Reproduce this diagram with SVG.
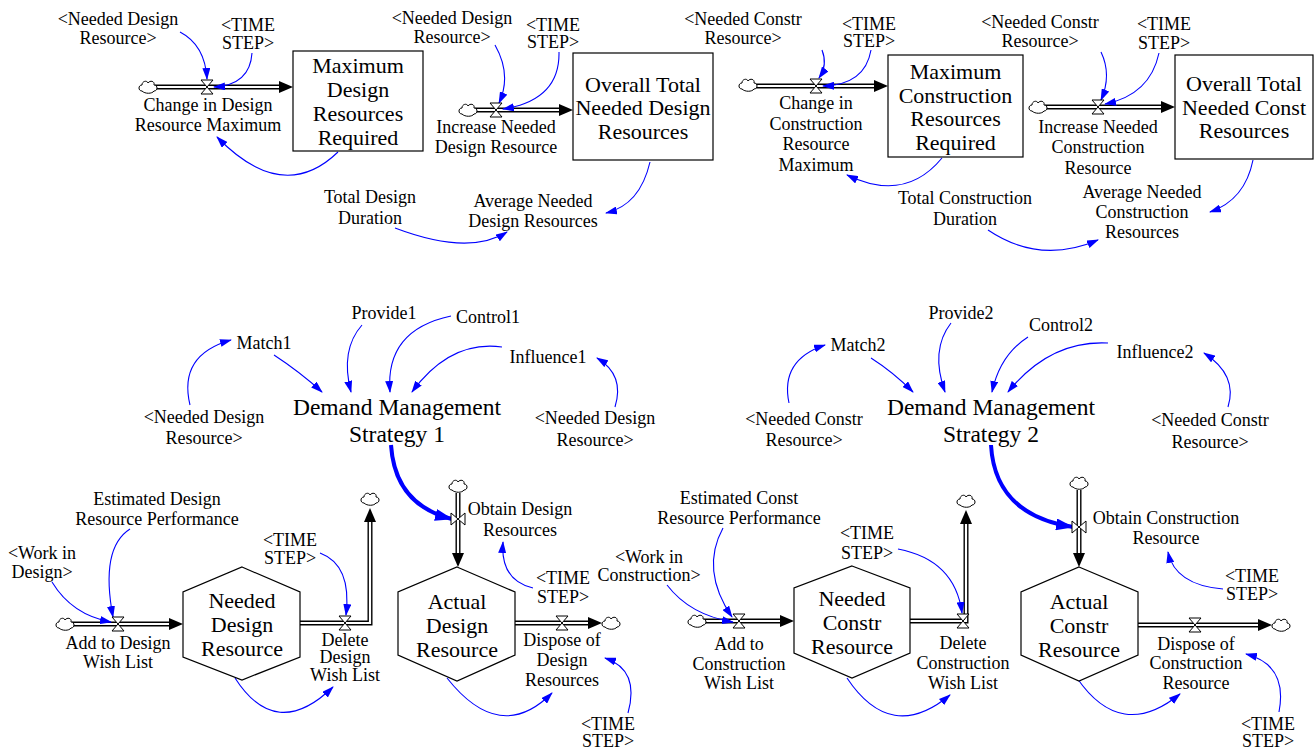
<svg xmlns="http://www.w3.org/2000/svg" width="1315" height="750" viewBox="0 0 1315 750" font-family="'Liberation Serif','DejaVu Serif',serif">
<style>
text{font-family:"Liberation Serif","DejaVu Serif","Times New Roman",serif;fill:#000;text-anchor:middle}
.s{font-size:18px}
.b{font-size:22px}
.d{font-size:23.5px}
.stock{fill:#fff;stroke:#000;stroke-width:1.2}
.po{stroke:#000;stroke-width:5;fill:none;stroke-linejoin:miter}
.pi{stroke:#fff;stroke-width:2.2;fill:none;stroke-linejoin:miter}
.ph{fill:#000}
.lk{stroke:#0000ff;stroke-width:1.1;fill:none;marker-end:url(#ah)}
.tk{stroke:#0000ff;stroke-width:4;fill:none;marker-end:url(#ahb)}
.valve{fill:#fff;stroke:#000;stroke-width:1}
.cloud{fill:#fff;stroke:#000;stroke-width:1}
</style>
<defs>
<marker id="ah" markerUnits="userSpaceOnUse" markerWidth="12" markerHeight="8" refX="11" refY="4" orient="auto"><path d="M0,0 L12,4 L0,8 Z" fill="#0000ff"/></marker>
<marker id="ahb" markerUnits="userSpaceOnUse" markerWidth="18" markerHeight="12" refX="17" refY="6" orient="auto"><path d="M0,0 L18,6 L0,12 Z" fill="#0000ff"/></marker>
<path id="cl" class="cloud" d="M-6,4 C-10,4 -10,-2 -6,-2 C-6,-6 -1,-7 0,-4 C2,-7 7,-6 6,-2 C10,-2 10,4 6,4 C4,7 -3,7 -6,4 Z"/>
<path id="vh" class="valve" d="M-6,-7 L6,-7 L-6,7 L6,7 Z"/>
<path id="vv" class="valve" d="M-7,-6 L-7,6 L7,-6 L7,6 Z"/>
</defs>

<g id="connectors">
<path class="po" d="M155,87 H280"/><path class="pi" d="M155,87 H280"/><path class="ph" d="M279,81 L293,87 L279,93 Z"/>
<path class="po" d="M475,110 H560"/><path class="pi" d="M475,110 H560"/><path class="ph" d="M559,104 L573,110 L559,116 Z"/>
<path class="po" d="M755,86 H875"/><path class="pi" d="M755,86 H875"/><path class="ph" d="M874,80 L888,86 L874,92 Z"/>
<path class="po" d="M1045,107 H1162"/><path class="pi" d="M1045,107 H1162"/><path class="ph" d="M1161,101 L1175,107 L1161,113 Z"/>
<path class="po" d="M72,624 H170"/><path class="pi" d="M72,624 H170"/><path class="ph" d="M169,618 L183,624 L169,630 Z"/>
<path class="po" d="M300,623 H370 V521"/><path class="pi" d="M300,623 H370 V521"/><path class="ph" d="M364,522 L370,508 L376,522 Z"/>
<path class="po" d="M458,493 V554"/><path class="pi" d="M458,493 V554"/><path class="ph" d="M452,553 L458,567 L464,553 Z"/>
<path class="po" d="M515,623 H589"/><path class="pi" d="M515,623 H589"/><path class="ph" d="M588,617 L602,623 L588,629 Z"/>
<path class="po" d="M704,621 H781"/><path class="pi" d="M704,621 H781"/><path class="ph" d="M780,615 L794,621 L780,627 Z"/>
<path class="po" d="M910,621 H966 V523"/><path class="pi" d="M910,621 H966 V523"/><path class="ph" d="M960,524 L966,510 L972,524 Z"/>
<path class="po" d="M1079,490 V554"/><path class="pi" d="M1079,490 V554"/><path class="ph" d="M1073,553 L1079,567 L1085,553 Z"/>
<path class="po" d="M1138,625 H1259"/><path class="pi" d="M1138,625 H1259"/><path class="ph" d="M1258,619 L1272,625 L1258,631 Z"/>
<path class="lk" d="M180,32 Q205,45 207,79"/>
<path class="lk" d="M252,53 Q250,85 214,87"/>
<path class="lk" d="M338,152 Q283,205 217,137"/>
<path class="lk" d="M495,45 Q512,75 499,103"/>
<path class="lk" d="M559,52 Q560,100 503,109"/>
<path class="lk" d="M650,162 Q640,205 606,213"/>
<path class="lk" d="M395,228 Q469,256 507,232"/>
<path class="lk" d="M822,50 Q828,65 819,78"/>
<path class="lk" d="M871,50 Q865,85 823,86"/>
<path class="lk" d="M942,158 Q905,203 847,175"/>
<path class="lk" d="M1101,52 Q1112,75 1101,100"/>
<path class="lk" d="M1159,53 Q1150,95 1105,104"/>
<path class="lk" d="M1253,160 Q1245,200 1210,212"/>
<path class="lk" d="M988,230 Q1040,265 1098,240"/>
<path class="lk" d="M190,405 Q178,355 231,340"/>
<path class="lk" d="M274,355 Q300,372 322,392"/>
<path class="lk" d="M362,325 Q340,350 351,392"/>
<path class="lk" d="M451,316 Q385,330 390,392"/>
<path class="lk" d="M502,347 Q450,340 412,392"/>
<path class="lk" d="M615,407 Q625,375 597,358"/>
<path class="tk" d="M391,445 Q395,505 452,519"/>
<path class="lk" d="M789,403 Q780,360 825,345"/>
<path class="lk" d="M871,358 Q893,372 913,392"/>
<path class="lk" d="M951,323 Q930,350 945,392"/>
<path class="lk" d="M1028,337 Q1000,355 992,392"/>
<path class="lk" d="M1108,343 Q1050,340 1008,392"/>
<path class="lk" d="M1228,407 Q1238,375 1204,353"/>
<path class="tk" d="M991,445 Q995,515 1073,527"/>
<path class="lk" d="M130,529 Q100,548 113,617"/>
<path class="lk" d="M52,582 Q72,615 111,622"/>
<path class="lk" d="M320,553 Q352,565 346,615"/>
<path class="lk" d="M235,678 Q276,742 333,687"/>
<path class="lk" d="M533,588 Q500,580 503,542"/>
<path class="lk" d="M628,713 Q640,670 605,658"/>
<path class="lk" d="M447,678 Q500,745 552,693"/>
<path class="lk" d="M723,528 Q700,570 732,617"/>
<path class="lk" d="M667,585 Q690,615 733,622"/>
<path class="lk" d="M898,549 Q955,560 962,613"/>
<path class="lk" d="M847,678 Q891,744 950,695"/>
<path class="lk" d="M1223,589 Q1175,585 1168,552"/>
<path class="lk" d="M1279,712 Q1288,665 1246,654"/>
<path class="lk" d="M1077,678 Q1121,742 1180,694"/>
</g>

<g id="ndr_top1"><text class="s"><tspan x="118" y="25">&lt;Needed Design</tspan><tspan x="118" y="44">Resource&gt;</tspan></text></g>
<g id="ts_top1"><text class="s"><tspan x="248" y="31">&lt;TIME</tspan><tspan x="248" y="49">STEP&gt;</tspan></text></g>
<g id="flow_change_design"><use href="#cl" x="148" y="87"/><use href="#vh" x="207" y="87"/><text class="s"><tspan x="208" y="111">Change in Design</tspan><tspan x="208" y="131">Resource Maximum</tspan></text></g>
<g id="stock_max_design"><rect class="stock" x="293" y="51" width="130" height="100"/><text class="b"><tspan x="358" y="73">Maximum</tspan><tspan x="358" y="97">Design</tspan><tspan x="358" y="121">Resources</tspan><tspan x="358" y="145">Required</tspan></text></g>
<g id="ndr_top2"><text class="s"><tspan x="452" y="24">&lt;Needed Design</tspan><tspan x="452" y="43">Resource&gt;</tspan></text></g>
<g id="ts_top2"><text class="s"><tspan x="553" y="31">&lt;TIME</tspan><tspan x="553" y="48">STEP&gt;</tspan></text></g>
<g id="flow_increase_design"><use href="#cl" x="468" y="110"/><use href="#vh" x="496" y="110"/><text class="s"><tspan x="496" y="133">Increase Needed</tspan><tspan x="496" y="153">Design Resource</tspan></text></g>
<g id="stock_overall_design"><rect class="stock" x="573" y="53" width="140" height="107"/><text class="b"><tspan x="643" y="92">Overall Total</tspan><tspan x="643" y="115">Needed Design</tspan><tspan x="643" y="139">Resources</tspan></text></g>
<g id="total_design_duration"><text class="s"><tspan x="370" y="203">Total Design</tspan><tspan x="370" y="224">Duration</tspan></text></g>
<g id="avg_design"><text class="s"><tspan x="533" y="207">Average Needed</tspan><tspan x="533" y="227">Design Resources</tspan></text></g>

<g id="ncr_top1"><text class="s"><tspan x="743" y="25">&lt;Needed Constr</tspan><tspan x="743" y="44">Resource&gt;</tspan></text></g>
<g id="ts_top3"><text class="s"><tspan x="869" y="30">&lt;TIME</tspan><tspan x="869" y="47">STEP&gt;</tspan></text></g>
<g id="flow_change_constr"><use href="#cl" x="748" y="85"/><use href="#vh" x="816" y="86"/><text class="s"><tspan x="816" y="109">Change in</tspan><tspan x="816" y="130">Construction</tspan><tspan x="816" y="150">Resource</tspan><tspan x="816" y="171">Maximum</tspan></text></g>
<g id="stock_max_constr"><rect class="stock" x="888" y="55" width="135" height="102"/><text class="b"><tspan x="955.5" y="79">Maximum</tspan><tspan x="955.5" y="103">Construction</tspan><tspan x="955.5" y="126">Resources</tspan><tspan x="955.5" y="150">Required</tspan></text></g>
<g id="ncr_top2"><text class="s"><tspan x="1040" y="28">&lt;Needed Constr</tspan><tspan x="1040" y="47">Resource&gt;</tspan></text></g>
<g id="ts_top4"><text class="s"><tspan x="1164" y="30">&lt;TIME</tspan><tspan x="1164" y="49">STEP&gt;</tspan></text></g>
<g id="flow_increase_constr"><use href="#cl" x="1038" y="107"/><use href="#vh" x="1098" y="107"/><text class="s"><tspan x="1098" y="133">Increase Needed</tspan><tspan x="1098" y="153">Construction</tspan><tspan x="1098" y="174">Resource</tspan></text></g>
<g id="stock_overall_constr"><rect class="stock" x="1175" y="55" width="138" height="104"/><text class="b"><tspan x="1244" y="91">Overall Total</tspan><tspan x="1244" y="115">Needed Const</tspan><tspan x="1244" y="138">Resources</tspan></text></g>
<g id="total_constr_duration"><text class="s"><tspan x="965" y="204">Total Construction</tspan><tspan x="965" y="225">Duration</tspan></text></g>
<g id="avg_constr"><text class="s"><tspan x="1142" y="198">Average Needed</tspan><tspan x="1142" y="218">Construction</tspan><tspan x="1142" y="238">Resources</tspan></text></g>

<g id="match1"><text class="s" x="264" y="349">Match1</text></g>
<g id="provide1"><text class="s" x="384" y="319">Provide1</text></g>
<g id="control1"><text class="s" x="488" y="323">Control1</text></g>
<g id="influence1"><text class="s" x="548" y="363">Influence1</text></g>
<g id="ndr_mid_left"><text class="s"><tspan x="204" y="423">&lt;Needed Design</tspan><tspan x="204" y="444">Resource&gt;</tspan></text></g>
<g id="ndr_mid_right"><text class="s"><tspan x="595" y="424">&lt;Needed Design</tspan><tspan x="595" y="446">Resource&gt;</tspan></text></g>
<g id="dms1"><text class="d"><tspan x="397" y="415">Demand Management</tspan><tspan x="397" y="442">Strategy 1</tspan></text></g>
<g id="match2"><text class="s" x="858" y="351">Match2</text></g>
<g id="provide2"><text class="s" x="961" y="319">Provide2</text></g>
<g id="control2"><text class="s" x="1061" y="331">Control2</text></g>
<g id="influence2"><text class="s" x="1155" y="358">Influence2</text></g>
<g id="ncr_mid_left"><text class="s"><tspan x="804" y="425">&lt;Needed Constr</tspan><tspan x="804" y="446">Resource&gt;</tspan></text></g>
<g id="ncr_mid_right"><text class="s"><tspan x="1210" y="426">&lt;Needed Constr</tspan><tspan x="1210" y="448">Resource&gt;</tspan></text></g>
<g id="dms2"><text class="d"><tspan x="991" y="415">Demand Management</tspan><tspan x="991" y="442">Strategy 2</tspan></text></g>

<g id="est_design_perf"><text class="s"><tspan x="157" y="505">Estimated Design</tspan><tspan x="157" y="525">Resource Performance</tspan></text></g>
<g id="work_in_design"><text class="s"><tspan x="42" y="559">&lt;Work in</tspan><tspan x="42" y="578">Design&gt;</tspan></text></g>
<g id="flow_add_design"><use href="#cl" x="65" y="624"/><use href="#vh" x="118" y="624"/><text class="s"><tspan x="118" y="649">Add to Design</tspan><tspan x="118" y="668">Wish List</tspan></text></g>
<g id="stock_needed_design"><path class="stock" d="M242,567 L300,592 L300,657 L242,680 L183,657 L183,592 Z"/><text class="b"><tspan x="242" y="608">Needed</tspan><tspan x="242" y="632">Design</tspan><tspan x="242" y="656">Resource</tspan></text></g>
<g id="ts_del_design"><text class="s"><tspan x="290" y="546">&lt;TIME</tspan><tspan x="290" y="564">STEP&gt;</tspan></text></g>
<g id="flow_delete_design"><use href="#cl" x="370" y="499"/><use href="#vh" x="345" y="623"/><text class="s"><tspan x="345" y="646">Delete</tspan><tspan x="345" y="663">Design</tspan><tspan x="345" y="681">Wish List</tspan></text></g>
<g id="flow_obtain_design"><use href="#cl" x="458" y="486"/><use href="#vv" x="458" y="519"/><text class="s"><tspan x="520" y="515">Obtain Design</tspan><tspan x="520" y="536">Resources</tspan></text></g>
<g id="ts_obtain_design"><text class="s"><tspan x="563" y="584">&lt;TIME</tspan><tspan x="563" y="603">STEP&gt;</tspan></text></g>
<g id="stock_actual_design"><path class="stock" d="M457,567 L515,592 L515,655 L457,681 L398,655 L398,592 Z"/><text class="b"><tspan x="457" y="609">Actual</tspan><tspan x="457" y="633">Design</tspan><tspan x="457" y="657">Resource</tspan></text></g>
<g id="flow_dispose_design"><use href="#cl" x="611" y="623"/><use href="#vh" x="562" y="623"/><text class="s"><tspan x="562" y="646">Dispose of</tspan><tspan x="562" y="666">Design</tspan><tspan x="562" y="686">Resources</tspan></text></g>
<g id="ts_dispose_design"><text class="s"><tspan x="608" y="730">&lt;TIME</tspan><tspan x="608" y="747">STEP&gt;</tspan></text></g>

<g id="est_const_perf"><text class="s"><tspan x="739" y="504">Estimated Const</tspan><tspan x="739" y="524">Resource Performance</tspan></text></g>
<g id="work_in_constr"><text class="s"><tspan x="649" y="563">&lt;Work in</tspan><tspan x="649" y="581">Construction&gt;</tspan></text></g>
<g id="flow_add_constr"><use href="#cl" x="697" y="621"/><use href="#vh" x="739" y="621"/><text class="s"><tspan x="739" y="650">Add to</tspan><tspan x="739" y="670">Construction</tspan><tspan x="739" y="689">Wish List</tspan></text></g>
<g id="stock_needed_constr"><path class="stock" d="M852,566 L910,588 L910,653 L852,678 L794,653 L794,588 Z"/><text class="b"><tspan x="852" y="606">Needed</tspan><tspan x="852" y="630">Constr</tspan><tspan x="852" y="654">Resource</tspan></text></g>
<g id="ts_del_constr"><text class="s"><tspan x="867" y="539">&lt;TIME</tspan><tspan x="867" y="559">STEP&gt;</tspan></text></g>
<g id="flow_delete_constr"><use href="#cl" x="966" y="501"/><use href="#vh" x="963" y="621"/><text class="s"><tspan x="963" y="649">Delete</tspan><tspan x="963" y="669">Construction</tspan><tspan x="963" y="689">Wish List</tspan></text></g>
<g id="flow_obtain_constr"><use href="#cl" x="1079" y="483"/><use href="#vv" x="1079" y="527"/><text class="s"><tspan x="1166" y="524">Obtain Construction</tspan><tspan x="1166" y="544">Resource</tspan></text></g>
<g id="ts_obtain_constr"><text class="s"><tspan x="1252" y="582">&lt;TIME</tspan><tspan x="1252" y="600">STEP&gt;</tspan></text></g>
<g id="stock_actual_constr"><path class="stock" d="M1079,567 L1138,592 L1138,655 L1079,681 L1021,655 L1021,592 Z"/><text class="b"><tspan x="1079" y="609">Actual</tspan><tspan x="1079" y="633">Constr</tspan><tspan x="1079" y="657">Resource</tspan></text></g>
<g id="flow_dispose_constr"><use href="#cl" x="1281" y="625"/><use href="#vh" x="1195" y="625"/><text class="s"><tspan x="1196" y="650">Dispose of</tspan><tspan x="1196" y="669">Construction</tspan><tspan x="1196" y="689">Resource</tspan></text></g>
<g id="ts_dispose_constr"><text class="s"><tspan x="1268" y="730">&lt;TIME</tspan><tspan x="1268" y="747">STEP&gt;</tspan></text></g>
</svg>
